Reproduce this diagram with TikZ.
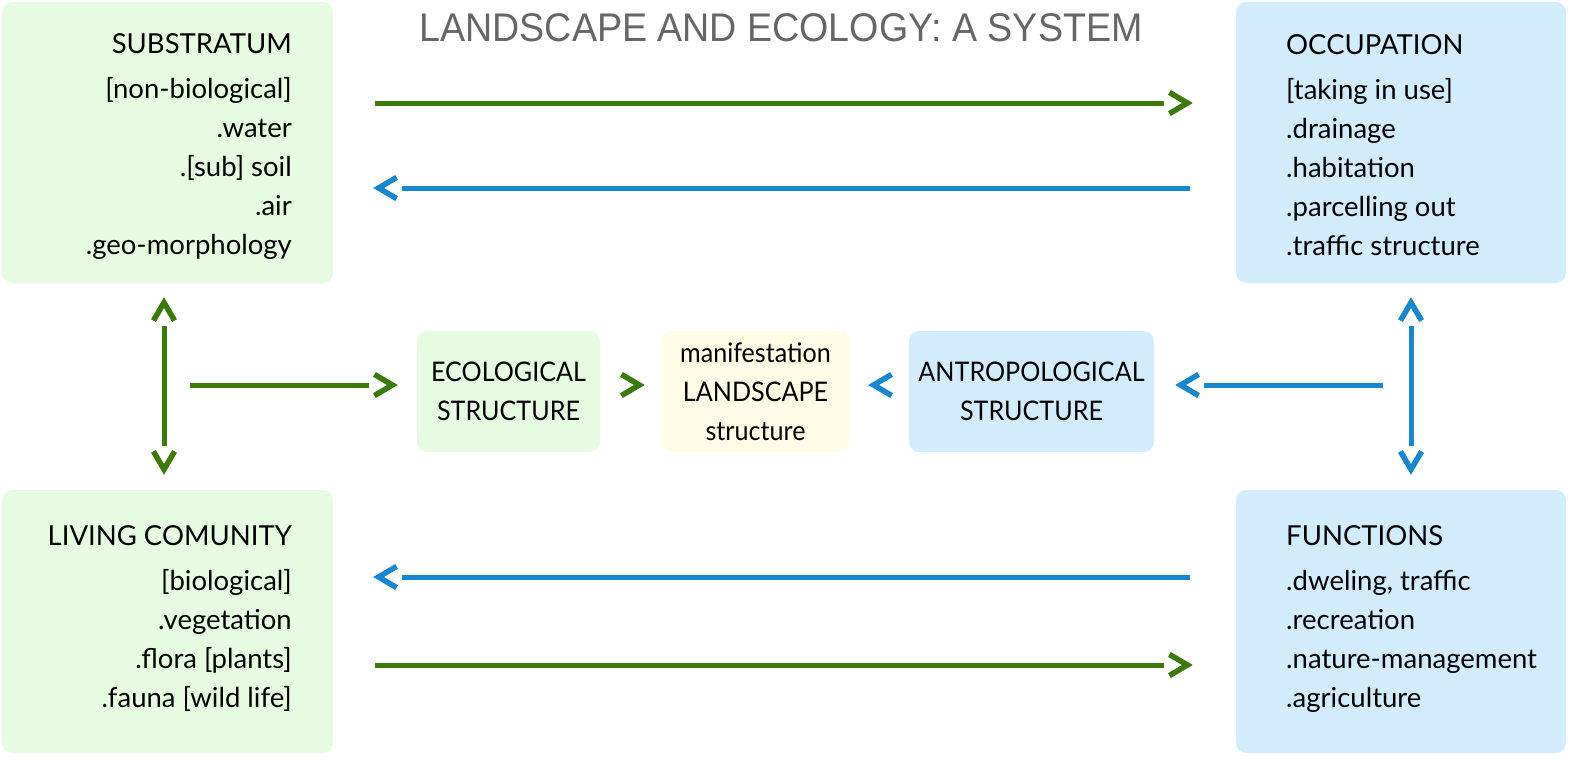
\documentclass[tikz,border=0pt]{standalone}
\usepackage{fontspec}
\setmainfont{Lato}
\newfontfamily\titlefont[FakeStretch=0.94]{Liberation Sans}
\newfontfamily\midfont[FakeStretch=0.93]{Lato}
\usetikzlibrary{arrows.meta}
\definecolor{gfill}{HTML}{E7FBE3}
\definecolor{bfill}{HTML}{D3ECFC}
\definecolor{yfill}{HTML}{FEFCE6}
\definecolor{garr}{HTML}{3D7A0C}
\definecolor{barr}{HTML}{1687D0}
\definecolor{titlegray}{HTML}{666666}
% chevron arrow tip, separated from the line by a small gap
\pgfdeclarearrow{
  name=Chev,
  parameters={},
  setup code={
    \pgfarrowssettipend{0pt}
    \pgfarrowssetbackend{-25pt}
    \pgfarrowssetlineend{-29pt}
    \pgfarrowshullpoint{0pt}{0pt}
    \pgfarrowsupperhullpoint{-25pt}{13pt}
  },
  drawing code={
    \pgfsetlinewidth{5.5pt}
    \pgfsetmiterjoin
    \pgfsetbuttcap
    \pgfpathmoveto{\pgfpoint{-23.4pt}{10.6pt}}
    \pgfpathlineto{\pgfpoint{-5.4pt}{0pt}}
    \pgfpathlineto{\pgfpoint{-23.4pt}{-10.6pt}}
    \pgfusepathqstroke
  },
}
\tikzset{
  box/.style={rounded corners=10pt, inner sep=0pt, draw=none, font=\midfont\fontsize{27}{39}\selectfont, align=center},
  gbox/.style={box, fill=gfill},
  bbox/.style={box, fill=bfill},
  ybox/.style={box, fill=yfill},
  txt/.style={inner sep=0pt, font=\fontsize{27.5}{39}\selectfont},
  conn/.style={line width=5pt},
  garrow/.style={conn, draw=garr, -Chev},
  barrow/.style={conn, draw=barr, -Chev},
  gdouble/.style={conn, draw=garr, Chev-Chev},
  bdouble/.style={conn, draw=barr, Chev-Chev},
  gtip/.style={line width=0.05pt, draw=white, -{Chev[color=garr]}},
  btip/.style={line width=0.05pt, draw=white, -{Chev[color=barr]}},
}
\begin{document}
\begin{tikzpicture}[x=1pt, y=-1pt]
\useasboundingbox (0,0) rectangle (1572,760);
% boxes
\node[gbox, minimum width=331pt, minimum height=281pt] (sub) at (167.5,142.5) {};
\node[bbox, minimum width=330pt, minimum height=281pt] (occ) at (1401,142.5) {};
\node[gbox, minimum width=331pt, minimum height=263pt] (liv) at (167.5,621.5) {};
\node[bbox, minimum width=330pt, minimum height=263pt] (fun) at (1401,621.5) {};
\node[gbox, minimum width=183pt, minimum height=121pt] (eco) at (508.5,391.5) {ECOLOGICAL\\STRUCTURE};
\node[ybox, minimum width=187pt, minimum height=121pt] (man) at (755.5,391.5) {manifestation\\LANDSCAPE\\structure};
\node[bbox, minimum width=245pt, minimum height=121pt] (ant) at (1031.5,391.5) {ANTROPOLOGICAL\\STRUCTURE};
% title
\node[inner sep=0pt, anchor=base, text=titlegray, font=\titlefont\fontsize{40}{40}\selectfont] (title) at (781,42) {LANDSCAPE AND ECOLOGY: A SYSTEM};
% texts (anchor = baseline of last line)
\node[txt, anchor=base east, align=right] (subt) at (292,254) {SUBSTRATUM\\[6pt] {[non-biological]}\\ .water\\ .[sub] soil\\ .air\\ .geo-morphology};
\node[txt, anchor=base west, align=left] (occt) at (1286,255) {OCCUPATION\\[6pt] {[taking in use]}\\ .drainage\\ .habitation\\ .parcelling out\\ .traffic structure};
\node[txt, anchor=base east, align=right] (livt) at (292,707) {LIVING COMUNITY\\[6pt] {[biological]}\\ .vegetation\\ .flora [plants]\\ .fauna [wild life]};
\node[txt, anchor=base west, align=left] (funt) at (1286,707) {FUNCTIONS\\[6pt] .dweling, traffic\\ .recreation\\ .nature-management\\ .agriculture};
% helper coordinates
\coordinate (y1) at (0,103);
\coordinate (y2) at (0,188);
\coordinate (y3) at (0,577);
\coordinate (y4) at (0,665);
\coordinate (ym) at (0,385);
\coordinate (lstart) at (190,385);
\coordinate (rstart) at (1383,385);
\coordinate (xl) at (164,0);
\coordinate (xr) at (1411,0);
% connectors
\draw[garrow, shorten <=42pt, shorten >=43pt] (sub.east |- y1) -- (occ.west |- y1);
\draw[barrow, shorten <=46pt, shorten >=40pt] (occ.west |- y2) -- (sub.east |- y2);
\draw[barrow, shorten <=46pt, shorten >=40pt] (fun.west |- y3) -- (liv.east |- y3);
\draw[garrow, shorten <=42pt, shorten >=43pt] (liv.east |- y4) -- (fun.west |- y4);
\draw[gdouble, shorten <=14pt, shorten >=15pt] (sub.south -| xl) -- (liv.north -| xl);
\draw[bdouble, shorten <=14pt, shorten >=15pt] (occ.south -| xr) -- (fun.north -| xr);
\draw[garrow, shorten >=19pt] (lstart) -- (eco.west |- ym);
\draw[barrow, shorten >=21pt] (rstart) -- (ant.east |- ym);
\draw[gtip, shorten <=4pt, shorten >=17pt] (eco.east |- ym) -- (man.west |- ym);
\draw[btip, shorten <=4pt, shorten >=19pt] (ant.west |- ym) -- (man.east |- ym);
\end{tikzpicture}
\end{document}
